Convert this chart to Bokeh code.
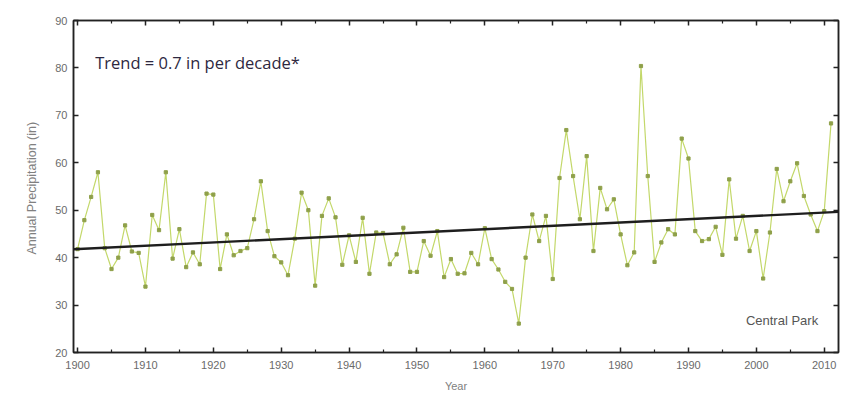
from bokeh.plotting import figure
from bokeh.models import Range1d, LinearAxis, FixedTicker, Label, ColumnDataSource
from bokeh.embed import file_html
from bokeh.resources import INLINE

years = list(range(1900, 2012))
precip = [
    41.8, 47.9, 52.8, 58.0, 42.0, 37.6, 40.0, 46.8, 41.3, 41.0,   # 1900s
    33.9, 49.0, 45.8, 58.0, 39.8, 46.0, 38.0, 41.1, 38.6, 53.5,   # 1910s
    53.3, 37.6, 44.9, 40.5, 41.4, 42.0, 48.1, 56.1, 45.6, 40.3,   # 1920s
    39.0, 36.3, 44.0, 53.7, 50.0, 34.1, 48.8, 52.5, 48.5, 38.5,   # 1930s
    44.7, 39.1, 48.4, 36.6, 45.3, 45.2, 38.6, 40.7, 46.3, 37.0,   # 1940s
    37.0, 43.5, 40.4, 45.6, 35.9, 39.7, 36.6, 36.7, 41.0, 38.6,   # 1950s
    46.2, 39.7, 37.5, 34.9, 33.4, 26.1, 40.0, 49.1, 43.5, 48.8,   # 1960s
    35.5, 56.8, 66.9, 57.2, 48.1, 61.4, 41.4, 54.7, 50.2, 52.3,   # 1970s
    44.9, 38.4, 41.1, 80.4, 57.2, 39.1, 43.2, 46.0, 44.9, 65.1,   # 1980s
    60.9, 45.6, 43.5, 43.9, 46.5, 40.6, 56.5, 44.0, 48.8, 41.4,   # 1990s
    45.6, 35.6, 45.3, 58.7, 51.9, 56.1, 59.9, 53.0, 49.1, 45.6,   # 2000s
    49.8, 68.3,                                                   # 2010s
]

# linear trend: value at 1900 and slope per year (0.7 in per decade)
trend_at_1900 = 41.8
trend_slope = 0.07
trend_years = [1899.4, 2012.1]
trend_values = [trend_at_1900 + trend_slope * (y - 1900) for y in trend_years]

x_ticks = list(range(1900, 2011, 10))
x_minor = list(range(1905, 2011, 10))
y_ticks = list(range(20, 91, 10))

p = figure(width=853, height=394, output_backend="svg", toolbar_location=None,
           x_range=Range1d(1899.4, 2012.1), y_range=Range1d(20, 90),
           min_border_left=73, min_border_right=15, min_border_top=20,
           min_border_bottom=40)
p.background_fill_color = "white"
p.border_fill_color = "white"
p.grid.visible = False
p.outline_line_color = "#222222"
p.outline_line_width = 1.5

src = ColumnDataSource(dict(year=years, precip=precip))
p.line("year", "precip", source=src, line_color="#c3d86a", line_width=1.2)
p.scatter("year", "precip", source=src, marker="square", size=3.2,
          fill_color="#8fa04a", line_color="#8fa04a")
p.line(trend_years, trend_values, line_color="#1e1e1e", line_width=2.4)

tick_font = "Liberation Sans"

def style_axis(ax, labels=True):
    ax.axis_line_color = "#222222"
    ax.axis_line_width = 1.5
    ax.major_tick_in = 5
    ax.major_tick_out = 0
    ax.minor_tick_in = 3
    ax.minor_tick_out = 0
    ax.major_tick_line_color = "#222222"
    ax.major_tick_line_width = 1.5
    ax.minor_tick_line_color = "#222222"
    ax.minor_tick_line_width = 1.2
    ax.major_label_text_font = tick_font
    ax.major_label_text_font_size = "11px"
    ax.major_label_text_color = "#6a6a6a" if labels else None
    ax.axis_label_text_font = tick_font
    ax.axis_label_text_font_size = "11px"
    ax.axis_label_text_font_style = "normal"
    ax.axis_label_text_color = "#808080"

xa = p.xaxis[0]
xa.ticker = FixedTicker(ticks=x_ticks, minor_ticks=x_minor)
xa.axis_label = "Year"
xa.major_label_standoff = 8
xa.axis_label_standoff = 8
style_axis(xa)

ya = p.yaxis[0]
ya.ticker = FixedTicker(ticks=y_ticks, minor_ticks=[])
ya.axis_label = "Annual Precipitation  (in)"
ya.major_label_standoff = 6
ya.axis_label_standoff = 13
style_axis(ya)
ya.axis_label_text_font_size = "12.5px"

top = LinearAxis(ticker=FixedTicker(ticks=x_ticks, minor_ticks=x_minor))
style_axis(top, labels=False)
p.add_layout(top, "above")
right = LinearAxis(ticker=FixedTicker(ticks=y_ticks, minor_ticks=[]))
style_axis(right, labels=False)
p.add_layout(right, "right")

p.add_layout(Label(x=1902.6, y=81.2, text="Trend = 0.7 in per decade*",
                   text_font="Open Sans", text_font_size="16.5px",
                   text_color="#2e2840", text_baseline="middle"))
p.add_layout(Label(x=2009.1, y=26.7, text="Central Park",
                   text_font=tick_font, text_font_size="13px",
                   text_color="#555555", text_align="right", text_baseline="middle"))

open("out.html", "w").write(file_html(p, INLINE))
